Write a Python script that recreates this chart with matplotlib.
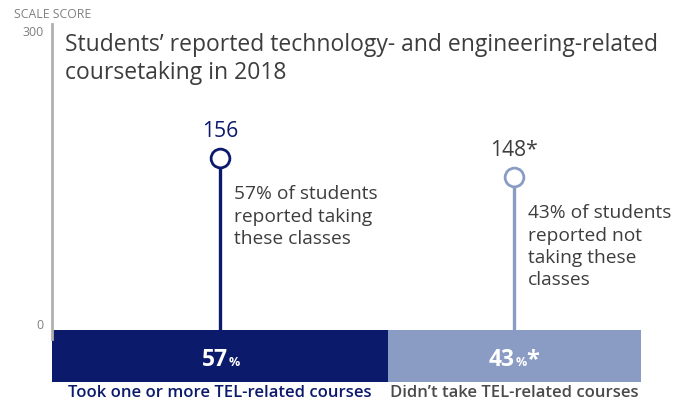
import matplotlib
matplotlib.use("Agg")
import matplotlib.pyplot as plt
from matplotlib.lines import Line2D
from matplotlib.transforms import offset_copy

plt.rcParams["font.family"] = ["Open Sans", "DejaVu Sans"]

# Data
groups = ["Took one or more TEL-related courses", "Didn\u2019t take TEL-related courses"]
shares = [57, 43]                 # percent of students
scores = [156, 148]               # average scale score
score_labels = ["156", "148*"]
share_marks = ["", "*"]
notes = ["57% of students\nreported taking\nthese classes",
         "43% of students\nreported not\ntaking these\nclasses"]
scale_ticks = [0, 300]

DARK = "#0b1a6b"
LIGHT = "#8a9bc4"
GREY_TXT = "#3d3d3d"
seg_colors = [DARK, LIGHT]
score_colors = [DARK, GREY_TXT]
group_colors = [DARK, "#4a4a4a"]

W, H = 683, 402
fig = plt.figure(figsize=(W / 100, H / 100), dpi=100)

def fr(x0, y0, x1, y1):
    """pixel box (top-left origin) -> figure fraction rect"""
    return [x0 / W, 1 - y1 / H, (x1 - x0) / W, (y1 - y0) / H]

# Left scale axis
ax_scale = fig.add_axes(fr(52, 31, 53, 324))
ax_scale.set_ylim(0, 300)
ax_scale.set_xlim(0, 1)
for s in ax_scale.spines.values():
    s.set_visible(False)
ax_scale.set_xticks([])
ax_scale.set_yticks(scale_ticks)
ax_scale.set_yticklabels([str(t) for t in scale_ticks])
ax_scale.tick_params(axis="y", length=0, pad=6, labelsize=9, labelcolor="#808080")
ax_scale.patch.set_visible(False)
fig.add_artist(Line2D([52 / W, 52 / W], [1 - 25 / H, 1 - 340 / H],
                      transform=fig.transFigure, color="#b0b0b0", lw=2))
fig.text(14 / W, 1 - 14 / H, "SCALE SCORE", fontsize=8.8, color="#808080",
         ha="left", va="center")

# Title
fig.text(65 / W, 1 - 33 / H,
         "Students\u2019 reported technology- and engineering-related\ncoursetaking in 2018",
         fontsize=16.5, color=GREY_TXT, ha="left", va="top", linespacing=1.22)

# Stacked share bar
ax_bar = fig.add_axes(fr(52, 331, 641, 383))
ax_bar.set_xlim(0, sum(shares))
ax_bar.set_ylim(0, 1)
ax_bar.axis("off")
lefts = [0, shares[0]]
centers = []
for left, w, c in zip(lefts, shares, seg_colors):
    ax_bar.barh(0.5, w, left=left, height=1, color=c, edgecolor="none")
    centers.append(left + w / 2)

for cx, w, mark in zip(centers, shares, share_marks):
    base = ax_bar.transData
    d = 0.4 if mark else 6
    ax_bar.text(cx, 0.327, str(w), transform=offset_copy(base, fig=fig, x=d, y=0, units="points"),
                ha="right", va="baseline", fontsize=16.5, fontweight="bold", color="white")
    ax_bar.text(cx, 0.327, "%", transform=offset_copy(base, fig=fig, x=d + 0.3, y=0, units="points"),
                ha="left", va="baseline", fontsize=9, fontweight="bold", color="white")
    if mark:
        ax_bar.text(cx, 0.327, mark, transform=offset_copy(base, fig=fig, x=d + 8.3, y=0, units="points"),
                    ha="left", va="baseline", fontsize=17, fontweight="bold", color="white")

for cx, g, gc in zip(centers, groups, group_colors):
    ax_bar.text(cx, -0.19, g, ha="center", va="center", fontsize=12,
                fontweight="semibold", color=gc)

# Lollipop stems with score markers
ax_st = fig.add_axes(fr(52, 25, 641, 331))
ax_st.set_xlim(0, sum(shares))
ax_st.set_ylim(83.6, 212.4)
ax_st.axis("off")
for cx, sc, c, lab, lc, note in zip(centers, scores, seg_colors, score_labels,
                                   score_colors, notes):
    ax_st.plot([cx, cx], [83.6, sc], color=c, lw=2.4, solid_capstyle="butt", zorder=1)
    ax_st.plot(cx, sc, "o", ms=13.5, mfc="white", mec=c, mew=2, zorder=2)
    ax_st.annotate(lab, (cx, sc), xytext=(0, 12), textcoords="offset points",
                   ha="center", va="bottom", fontsize=15.2, color=lc)
    ax_st.annotate(note, (cx, sc), xytext=(10, -19), textcoords="offset points",
                   ha="left", va="top", fontsize=13.8, color=GREY_TXT, linespacing=1.3)

fig.savefig("out.png", dpi=100, facecolor="white")
